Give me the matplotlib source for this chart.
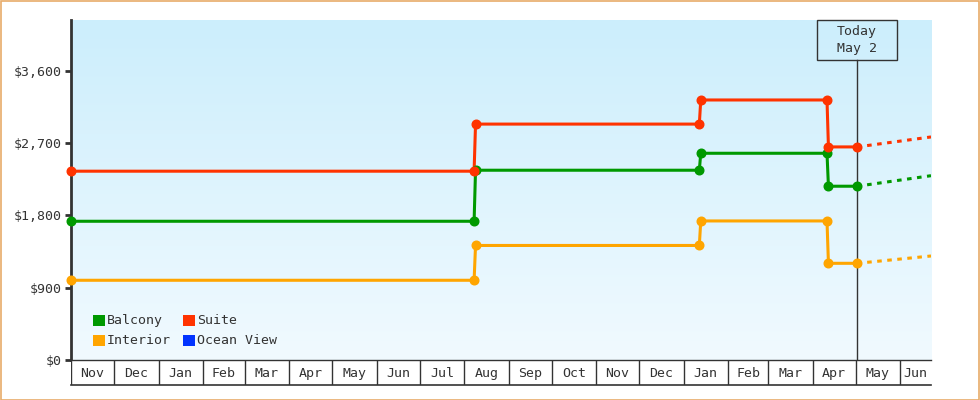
import numpy as np
import pandas as pd
import matplotlib
matplotlib.use("Agg")
import matplotlib.pyplot as plt
import matplotlib.dates as mdates
import matplotlib.transforms as mtransforms
from matplotlib.patches import Rectangle
from matplotlib.ticker import FuncFormatter

plt.rcParams['font.family'] = ['DejaVu Sans Mono']

# price history (date, price) for each cabin type
balcony_dates = ['2019-11-01', '2020-08-08', '2020-08-09', '2021-01-12', '2021-01-13', '2021-04-11', '2021-04-12', '2021-05-02']
balcony_prices = [1726, 1726, 2361, 2361, 2572, 2572, 2162, 2162]

suite_dates = ['2019-11-01', '2020-08-08', '2020-08-09', '2021-01-12', '2021-01-13', '2021-04-11', '2021-04-12', '2021-05-02']
suite_prices = [2349, 2349, 2935, 2935, 3235, 3235, 2651, 2651]

interior_dates = ['2019-11-01', '2020-08-08', '2020-08-09', '2021-01-12', '2021-01-13', '2021-04-11', '2021-04-12', '2021-05-02']
interior_prices = [992, 992, 1425, 1425, 1730, 1730, 1203, 1203]

ocean_dates = []
ocean_prices = []

# projected prices after today
proj_dates = ['2021-05-02 00:00', '2021-06-22 12:00']
balcony_proj = [2162, 2293]
suite_proj = [2651, 2775]
interior_proj = [1203, 1294]

today = '2021-05-02'
today_label = 'Today\nMay 2'
y_ticks = [0, 900, 1800, 2700, 3600]

x_start = pd.Timestamp('2019-11-01')
x_end = pd.Timestamp('2021-06-22 12:00')

series = [
    ('Balcony', '#009900', balcony_dates, balcony_prices, balcony_proj),
    ('Suite', '#ff3300', suite_dates, suite_prices, suite_proj),
    ('Interior', '#ffa500', interior_dates, interior_prices, interior_proj),
    ('Ocean View', '#0033ff', ocean_dates, ocean_prices, None),
]

W, H = 980, 400
fig = plt.figure(figsize=(W / 100, H / 100), dpi=100)
fig.patch.set_facecolor('white')


def px(x0, y0, x1, y1):
    # pixel box (top-left origin) -> figure fraction rect
    return [x0 / W, 1 - y1 / H, (x1 - x0) / W, (y1 - y0) / H]


ax = fig.add_axes(px(71, 20, 931, 360))
strip = fig.add_axes(px(71, 360, 931, 385), sharex=ax)

dark = '#333333'
fs = 9.5

# gradient background
grad = np.linspace(0, 1, 256).reshape(-1, 1)
top = np.array([204, 238, 252]) / 255
bot = np.array([241, 250, 255]) / 255
img = top + (bot - top) * grad[..., None]
img = img.reshape(256, 1, 3)
ax.imshow(img, extent=[0, 1, 0, 1], transform=ax.transAxes, aspect='auto', zorder=0)

for name, color, dates, prices, proj in series:
    if not dates:
        continue
    d = pd.to_datetime(dates)
    ax.plot(d, prices, '-', color=color, lw=2.2, zorder=3, clip_on=False,
            solid_joinstyle='round')
    ax.plot(d, prices, 'o', color=color, ms=6.2, mec=color, zorder=4, clip_on=False)
    if proj is not None:
        ax.plot(pd.to_datetime(proj_dates), proj, color=color, lw=2.2,
                linestyle=(0, (1.5, 1.8)), dash_capstyle='butt', zorder=2)

ax.set_xlim(x_start, x_end)
ax.set_ylim(0, 4230)
ax.set_yticks(y_ticks)
ax.yaxis.set_major_formatter(FuncFormatter(lambda v, p: '${:,.0f}'.format(v)))
ax.tick_params(axis='y', length=4, width=2, color=dark, labelcolor=dark,
               labelsize=fs, pad=3)
ax.tick_params(axis='x', bottom=False, labelbottom=False)
for s in ['top', 'right', 'bottom']:
    ax.spines[s].set_visible(False)
ax.spines['left'].set_color(dark)
ax.spines['left'].set_linewidth(2)

# today marker with label box
t = pd.Timestamp(today)
trans = mtransforms.blended_transform_factory(ax.transData, ax.transAxes)
box_h = 40.3 / 340
ax.plot([t, t], [0, 1 - box_h], color=dark, lw=1, transform=trans, zorder=1)
box_w = pd.Timedelta(days=80 / 1.4346)
ax.add_patch(Rectangle((mdates.date2num(t - box_w / 2), 1 - box_h),
                       mdates.date2num(t + box_w / 2) - mdates.date2num(t - box_w / 2),
                       box_h, transform=trans, facecolor='none', edgecolor=dark,
                       lw=1, zorder=5, clip_on=False))
ax.text(t, 1 - box_h / 2, today_label, transform=trans, ha='center', va='center',
        fontsize=fs, color=dark, linespacing=1.35, zorder=6)

# month strip below
months = pd.date_range('2019-11-01', '2021-06-01', freq='MS')
for i, m in enumerate(months):
    strip.axvline(m, color=dark, lw=1)
    nxt = months[i + 1] if i + 1 < len(months) else x_end
    mid = m + (nxt - m) / 2
    strip.text(mid, 0.45, m.strftime('%b'), ha='center', va='center',
               fontsize=fs, color=dark)
strip.set_ylim(0, 1)
strip.set_xticks([])
strip.set_yticks([])
for s in ['top', 'right', 'left']:
    strip.spines[s].set_visible(False)
strip.spines['bottom'].set_color(dark)
strip.spines['bottom'].set_linewidth(1.2)
strip.axhline(1, color=dark, lw=1, clip_on=False)

# legend
legend_pos = [(93, 320.5), (183, 320.5), (93, 340.5), (183, 340.5)]
legend_order = [0, 1, 2, 3]
for (lx, ly), k in zip(legend_pos, legend_order):
    name, color = series[k][0], series[k][1]
    fig.add_artist(Rectangle((lx / W, 1 - (ly + 5.5) / H), 11.5 / W, 11 / H,
                             transform=fig.transFigure, facecolor=color,
                             edgecolor='none'))
    fig.text((lx + 14) / W, 1 - ly / H, name, ha='left', va='center',
             fontsize=fs, color=dark)

# outer border
fig.add_artist(Rectangle((0.5 / W, 0.5 / H), 1 - 1.5 / W, 1 - 1.5 / H,
                         transform=fig.transFigure, facecolor='none',
                         edgecolor='#e8ac6a', lw=1.2))

fig.savefig('out.png', dpi=100)
